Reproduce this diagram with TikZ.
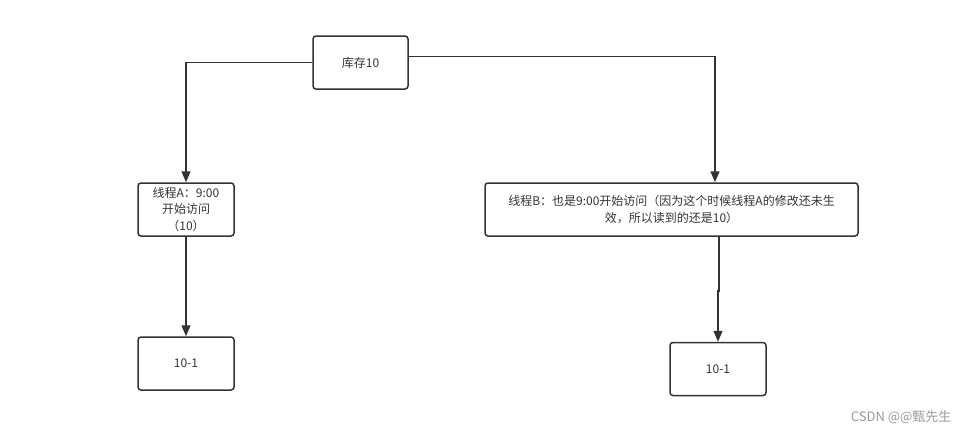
\documentclass[tikz,border=0pt]{standalone}
\usepackage{fontspec}
\setmainfont{Noto Sans CJK SC}
\usetikzlibrary{arrows.meta}
\definecolor{linegray}{HTML}{333333}
\definecolor{markgray}{HTML}{999999}

\begin{document}
\begin{tikzpicture}[x=1pt,y=-1pt]
    \tikzstyle{every node}=[font=\fontsize{12}{16.5}\selectfont, text=linegray]
    \tikzstyle{box}=[
        draw=linegray,
        line width=1.5pt,
        rounded corners=3pt,
        align=center,
        inner sep=0pt,
        minimum height=53pt]
    \tikzstyle{flow}=[draw=linegray, line width=1.5pt,
        -{Triangle[length=11pt,width=9pt]}]

    \useasboundingbox (0,0) rectangle (969,434);
    \node[box, minimum width=95pt] (stock) at (360.5,62.5) {库存10};
    \node[box, minimum width=96pt] (ta) at (186,209.5) {线程A：9:00\\开始访问\\（10）};
    \node[box, minimum width=373pt] (tb) at (671.5,209.5)
        {线程B：也是9:00开始访问（因为这个时候线程A的修改还未生\\效，所以读到的还是10）};
    \node[box, minimum width=96pt] (ra) at (186,363.5) {10-1};
    \node[box, minimum width=96pt] (rb) at (718,369) {10-1};
    \node[font=\fontsize{13}{15}\selectfont, text=markgray, anchor=east] (mark) at (955,417) {CSDN @@甄先生};

    \draw[flow] (stock.west) -| (ta.north);
    \draw[flow] ([yshift=6pt]stock.east) -| (tb.north -| 715,0);
    \draw[flow] (ta) -- (ra);
    \draw[flow] (tb.south -| 719,0) -- ++(0,54) -| (rb.north);
\end{tikzpicture}
\end{document}
